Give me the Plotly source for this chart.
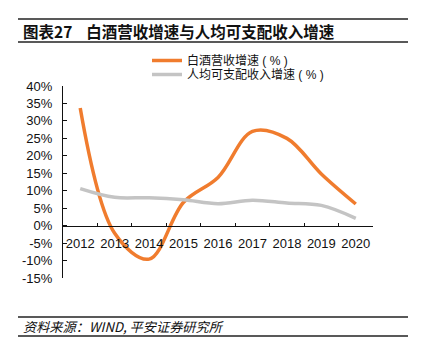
import plotly.graph_objects as go

years = ["2012", "2013", "2014", "2015", "2016", "2017", "2018", "2019", "2020"]
baijiu_growth = [33.7, -2.2, -9.6, 6.7, 13.8, 27.0, 25.0, 14.8, 6.2]
income_growth = [10.6, 8.1, 8.0, 7.4, 6.3, 7.3, 6.5, 5.8, 2.1]
y_ticks = [-15, -10, -5, 0, 5, 10, 15, 20, 25, 30, 35, 40]
y_tick_text = [f"{v}%" for v in y_ticks]
series_names = ["白酒营收增速 ( % )", "人均可支配收入增速 ( % )"]
series_colors = ["#F07C2E", "#C4C4C4"]

W, H = 425, 355
L, R, T, B = 63, 373, 86, 278  # plot area in px


def px(x):
    return (x - L) / (R - L)


def py(y):
    return (B - y) / (B - T)


FONT = "Liberation Sans, Arial, Noto Sans CJK SC, sans-serif"
CJK = "Noto Sans CJK SC, Liberation Sans, sans-serif"
LEG = "Liberation Sans, Noto Sans CJK SC, sans-serif"

fig = go.Figure()
for name, vals, col in zip(series_names, [baijiu_growth, income_growth], series_colors):
    fig.add_trace(go.Scatter(
        x=years, y=vals, mode="lines", name=name,
        line=dict(color=col, width=3.5, shape="spline", smoothing=1),
    ))

fig.update_layout(
    width=W, height=H,
    margin=dict(l=L, r=W - R, t=T, b=H - B, pad=0, autoexpand=False),
    paper_bgcolor="white", plot_bgcolor="white",
    font=dict(family=FONT, size=13, color="#111"),
    showlegend=False,
    xaxis=dict(
        type="category", range=[-0.5, 8.5],
        anchor="free", position=15 / 55,
        showline=True, linecolor="#111", linewidth=1,
        ticks="inside", ticklen=3, tickcolor="#111", tickson="boundaries",
        showgrid=False, zeroline=False, tickangle=0,
        tickfont=dict(size=13, family=FONT),
        ticklabelstandoff=6,
    ),
    yaxis=dict(
        range=[-15, 40], tickvals=y_ticks, ticktext=y_tick_text,
        showline=True, linecolor="#111", linewidth=1,
        ticks="inside", ticklen=4, tickcolor="#111",
        showgrid=False, zeroline=False,
        tickfont=dict(size=13, family=FONT),
        ticklabelstandoff=7,
    ),
)

# manual legend
for i, (name, col) in enumerate(zip(series_names, series_colors)):
    yy = 60.5 + 14 * i
    fig.add_shape(type="line", xref="paper", yref="paper",
                  x0=px(152), x1=px(182), y0=py(yy), y1=py(yy),
                  line=dict(color=col, width=3.5))
    fig.add_annotation(
        xref="paper", yref="paper", x=px(186), y=py(yy), xanchor="left", yanchor="middle",
        text=name, showarrow=False, font=dict(family=LEG, size=12, color="#111"),
        borderpad=0,
    )

line_style = dict(color="#222", width=1.5)
for yy in (19, 42, 317, 336):
    fig.add_shape(type="line", xref="paper", yref="paper",
                  x0=px(18), x1=px(408), y0=py(yy), y1=py(yy), line=line_style)

fig.add_annotation(
    xref="paper", yref="paper", x=px(21), y=py(31), xanchor="left", yanchor="middle",
    text="<b>图表27</b>    <b>白酒营收增速与人均可支配收入增速</b>", showarrow=False,
    font=dict(family=CJK, size=15.5, color="#111"),
)
fig.add_annotation(
    xref="paper", yref="paper", x=px(21), y=py(326.5), xanchor="left", yanchor="middle",
    text="<i>资料来源：WIND, 平安证券研究所</i>", showarrow=False,
    font=dict(family=CJK, size=13.2, color="#111"),
)

fig.write_html("out.html", config={"displayModeBar": False},
               post_script="document.body.style.margin='0';")
